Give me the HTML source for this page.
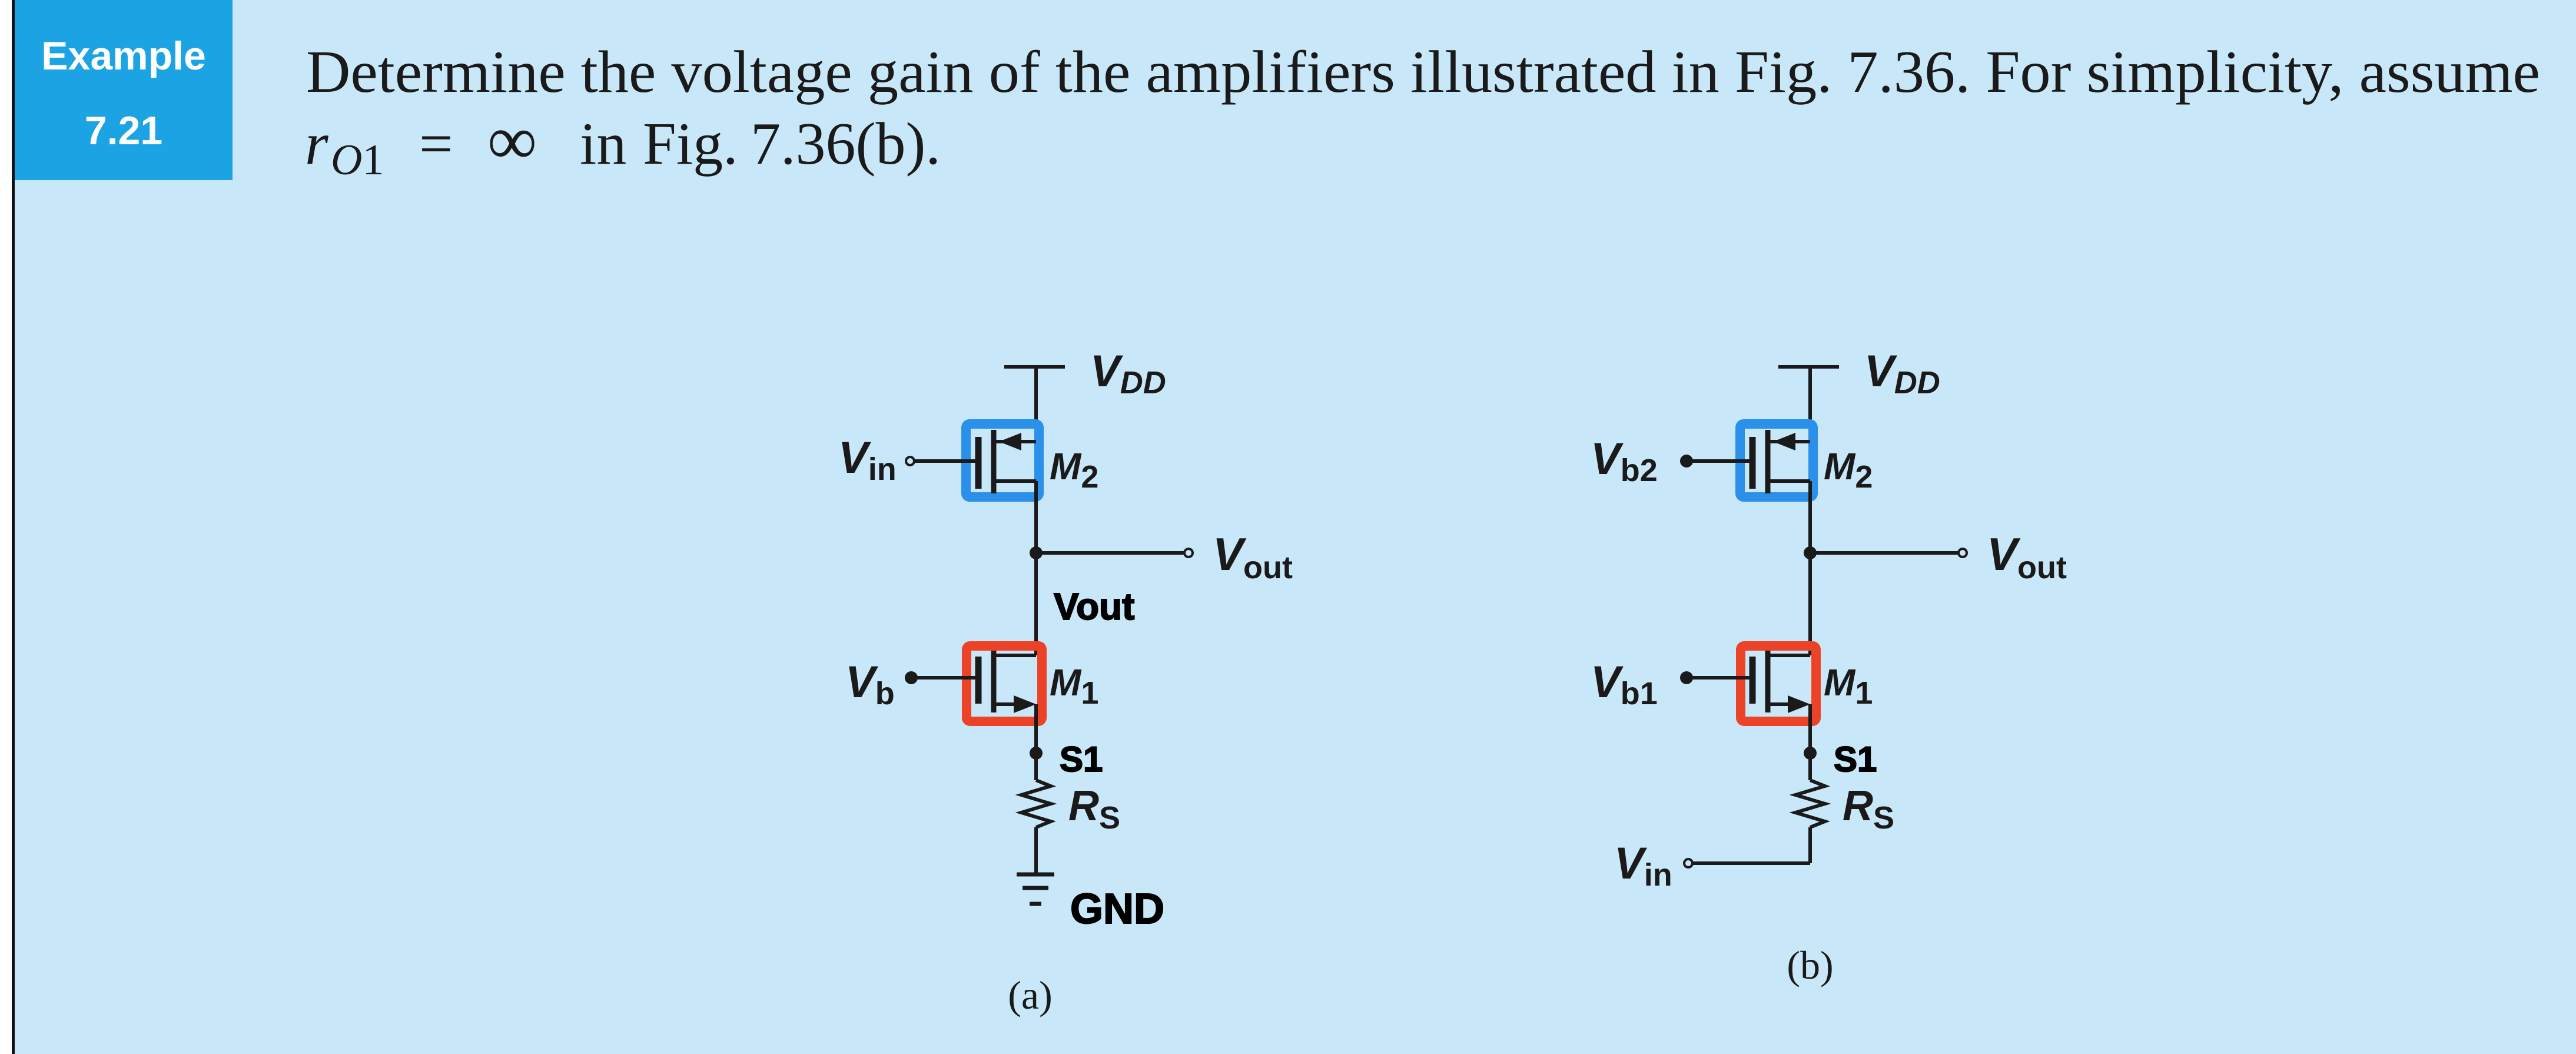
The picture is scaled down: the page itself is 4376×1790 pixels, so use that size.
<!DOCTYPE html>
<html><head><meta charset="utf-8"><style>
html,body{margin:0;padding:0;background:#c8e8f9;}
svg{display:block;}
.ser{font-family:"Liberation Serif",serif;fill:#1a1a1a;}
.lab{font-family:"Liberation Sans",sans-serif;font-weight:bold;font-style:italic;fill:#1a1a1a;}
.sub{font-family:"Liberation Sans",sans-serif;font-weight:bold;font-style:normal;}
.hand{font-family:"Liberation Sans",sans-serif;font-weight:bold;fill:#000;stroke:#000;stroke-width:2;}
.w{stroke:#1a1a1a;stroke-width:6;fill:none;}
</style></head><body>
<svg width="4376" height="1790" viewBox="0 0 4376 1790" xmlns="http://www.w3.org/2000/svg">
<rect x="0" y="0" width="4376" height="1790" fill="#c8e8f9"/>
<rect x="0" y="0" width="20" height="1790" fill="#ffffff"/>
<rect x="20" y="0" width="5" height="1790" fill="#111"/>
<rect x="25" y="0" width="370" height="306" fill="#1ca3e4"/>
<text x="210" y="118" text-anchor="middle" font-family="Liberation Sans, sans-serif" font-weight="bold" font-size="68" fill="#fff">Example</text>
<text x="210" y="245" text-anchor="middle" font-family="Liberation Sans, sans-serif" font-weight="bold" font-size="68" fill="#fff">7.21</text>
<text class="ser" x="520" y="156" font-size="102" textLength="3795" lengthAdjust="spacingAndGlyphs">Determine the voltage gain of the amplifiers illustrated in Fig. 7.36. For simplicity, assume</text>
<text class="ser" y="278" font-size="102"><tspan x="518" font-style="italic">r</tspan><tspan x="562" font-style="italic" font-size="74" dy="18">O</tspan><tspan font-size="74">1</tspan><tspan x="712" dy="-18">=</tspan><tspan x="828" font-size="118">∞</tspan><tspan x="985">in</tspan><tspan x="1092">Fig.</tspan><tspan x="1275">7.36(b).</tspan></text>

<!-- Circuit (a) -->
<g>
<line class="w" x1="1706" y1="623" x2="1809" y2="623"/>
<line class="w" x1="1760" y1="623" x2="1760" y2="750"/>
<text class="lab" x="1852" y="656" font-size="76">V<tspan font-size="54" dy="12">DD</tspan></text>
<rect x="1641" y="720" width="124" height="124" rx="6" fill="none" stroke="#2a90ea" stroke-width="16"/>
<line x1="1662" y1="742" x2="1662" y2="830" stroke="#1a1a1a" stroke-width="11"/>
<line x1="1688" y1="730" x2="1688" y2="838" stroke="#1a1a1a" stroke-width="9"/>
<line class="w" x1="1690" y1="750" x2="1760" y2="750"/>
<line class="w" x1="1690" y1="817" x2="1760" y2="817"/>
<polygon points="1697,750 1735,735 1735,765" fill="#1a1a1a"/>
<line class="w" x1="1553" y1="783" x2="1662" y2="783"/>
<circle cx="1546" cy="783" r="7" fill="#c8e8f9" stroke="#1a1a1a" stroke-width="4"/>
<text class="lab" x="1424" y="803" font-size="76">V<tspan class="sub" font-size="54" dy="12">in</tspan></text>
<text class="lab" x="1783" y="814" font-size="64">M<tspan class="sub" font-size="54" dy="14">2</tspan></text>
<line class="w" x1="1760" y1="817" x2="1760" y2="1113"/>
<circle cx="1760" cy="939" r="11" fill="#1a1a1a"/>
<line class="w" x1="1760" y1="939" x2="2012" y2="939"/>
<circle cx="2019" cy="939" r="7" fill="#c8e8f9" stroke="#1a1a1a" stroke-width="4"/>
<text class="lab" x="2060" y="968" font-size="78">V<tspan class="sub" font-size="54" dy="14">out</tspan></text>
<text class="hand" x="1790" y="1052" font-size="64">Vout</text>
<rect x="1642" y="1097" width="128" height="128" rx="6" fill="none" stroke="#ec4328" stroke-width="16"/>
<line x1="1662" y1="1115" x2="1662" y2="1195" stroke="#1a1a1a" stroke-width="11"/>
<line x1="1688" y1="1105" x2="1688" y2="1210" stroke="#1a1a1a" stroke-width="9"/>
<line class="w" x1="1690" y1="1113" x2="1760" y2="1113"/>
<line class="w" x1="1690" y1="1196" x2="1730" y2="1196"/>
<polygon points="1760,1196 1722,1181 1722,1211" fill="#1a1a1a"/>
<line class="w" x1="1548" y1="1151" x2="1662" y2="1151"/>
<circle cx="1548" cy="1151" r="11" fill="#1a1a1a"/>
<text class="lab" x="1436" y="1184" font-size="76">V<tspan class="sub" font-size="54" dy="12">b</tspan></text>
<text class="lab" x="1783" y="1181" font-size="64">M<tspan class="sub" font-size="54" dy="14">1</tspan></text>
<line class="w" x1="1760" y1="1196" x2="1760" y2="1325"/>
<circle cx="1760" cy="1279" r="11" fill="#1a1a1a"/>
<text class="hand" x="1800" y="1310" font-size="60">S1</text>
<polyline class="w" points="1760,1325 1785,1335 1735,1350 1785,1365 1735,1380 1785,1395 1760,1405"/>
<line class="w" x1="1760" y1="1405" x2="1760" y2="1485"/>
<text class="lab" x="1815" y="1393" font-size="72">R<tspan class="sub" font-size="54" dy="14">S</tspan></text>
<line x1="1727" y1="1485" x2="1791" y2="1485" stroke="#1a1a1a" stroke-width="7"/>
<line x1="1737" y1="1508" x2="1781" y2="1508" stroke="#1a1a1a" stroke-width="7"/>
<line x1="1749" y1="1535" x2="1769" y2="1535" stroke="#1a1a1a" stroke-width="7"/>
<text class="hand" x="1818" y="1568" font-size="72">GND</text>
<text class="ser" x="1750" y="1713" font-size="68" text-anchor="middle">(a)</text>
</g>

<!-- Circuit (b) -->
<g transform="translate(1315,0)">
<line class="w" x1="1706" y1="623" x2="1809" y2="623"/>
<line class="w" x1="1760" y1="623" x2="1760" y2="750"/>
<text class="lab" x="1852" y="656" font-size="76">V<tspan font-size="54" dy="12">DD</tspan></text>
<rect x="1641" y="720" width="124" height="124" rx="6" fill="none" stroke="#2a90ea" stroke-width="16"/>
<line x1="1662" y1="742" x2="1662" y2="830" stroke="#1a1a1a" stroke-width="11"/>
<line x1="1688" y1="730" x2="1688" y2="838" stroke="#1a1a1a" stroke-width="9"/>
<line class="w" x1="1690" y1="750" x2="1760" y2="750"/>
<line class="w" x1="1690" y1="817" x2="1760" y2="817"/>
<polygon points="1697,750 1735,735 1735,765" fill="#1a1a1a"/>
<line class="w" x1="1550" y1="783" x2="1662" y2="783"/>
<circle cx="1550" cy="783" r="11" fill="#1a1a1a"/>
<text class="lab" x="1387" y="805" font-size="76">V<tspan class="sub" font-size="54" dy="12">b2</tspan></text>
<text class="lab" x="1783" y="814" font-size="64">M<tspan class="sub" font-size="54" dy="14">2</tspan></text>
<line class="w" x1="1760" y1="817" x2="1760" y2="1113"/>
<circle cx="1760" cy="939" r="11" fill="#1a1a1a"/>
<line class="w" x1="1760" y1="939" x2="2012" y2="939"/>
<circle cx="2019" cy="939" r="7" fill="#c8e8f9" stroke="#1a1a1a" stroke-width="4"/>
<text class="lab" x="2060" y="968" font-size="78">V<tspan class="sub" font-size="54" dy="14">out</tspan></text>
<rect x="1642" y="1097" width="128" height="128" rx="6" fill="none" stroke="#ec4328" stroke-width="16"/>
<line x1="1662" y1="1115" x2="1662" y2="1195" stroke="#1a1a1a" stroke-width="11"/>
<line x1="1688" y1="1105" x2="1688" y2="1210" stroke="#1a1a1a" stroke-width="9"/>
<line class="w" x1="1690" y1="1113" x2="1760" y2="1113"/>
<line class="w" x1="1690" y1="1196" x2="1730" y2="1196"/>
<polygon points="1760,1196 1722,1181 1722,1211" fill="#1a1a1a"/>
<line class="w" x1="1550" y1="1151" x2="1662" y2="1151"/>
<circle cx="1550" cy="1151" r="11" fill="#1a1a1a"/>
<text class="lab" x="1387" y="1184" font-size="76">V<tspan class="sub" font-size="54" dy="12">b1</tspan></text>
<text class="lab" x="1783" y="1181" font-size="64">M<tspan class="sub" font-size="54" dy="14">1</tspan></text>
<line class="w" x1="1760" y1="1196" x2="1760" y2="1325"/>
<circle cx="1760" cy="1279" r="11" fill="#1a1a1a"/>
<text class="hand" x="1800" y="1310" font-size="60">S1</text>
<polyline class="w" points="1760,1325 1785,1335 1735,1350 1785,1365 1735,1380 1785,1395 1760,1405"/>
<line class="w" x1="1760" y1="1405" x2="1760" y2="1466"/>
<text class="lab" x="1815" y="1393" font-size="72">R<tspan class="sub" font-size="54" dy="14">S</tspan></text>
<line class="w" x1="1560" y1="1466" x2="1760" y2="1466"/>
<circle cx="1553" cy="1466" r="7" fill="#c8e8f9" stroke="#1a1a1a" stroke-width="4"/>
<text class="lab" x="1427" y="1492" font-size="76">V<tspan class="sub" font-size="54" dy="12">in</tspan></text>
<text class="ser" x="1760" y="1662" font-size="68" text-anchor="middle">(b)</text>
</g>
</svg>
</body></html>
